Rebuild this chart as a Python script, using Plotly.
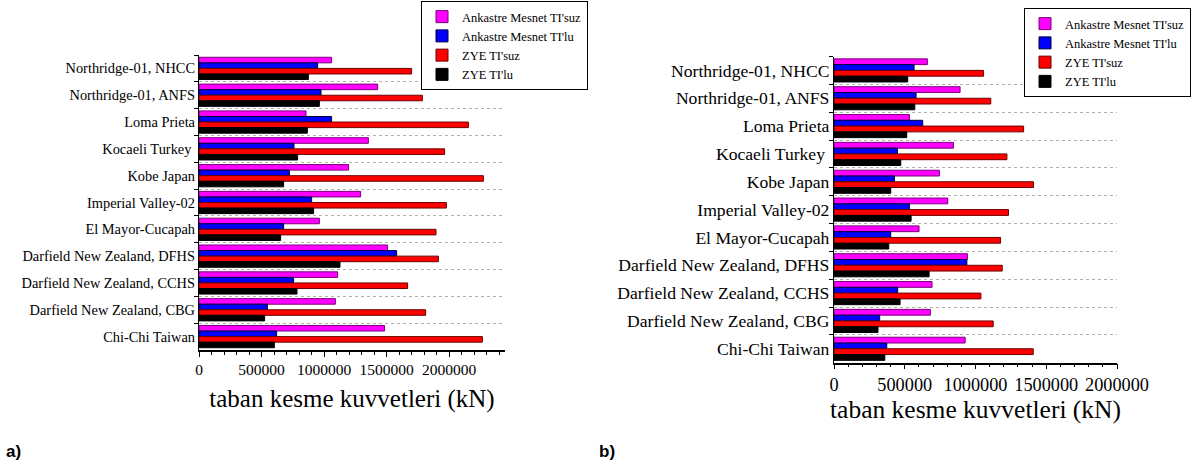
import plotly.graph_objects as go

categories = [
    "Northridge-01, NHCC",
    "Northridge-01, ANFS",
    "Loma Prieta",
    "Kocaeli Turkey\u00a0",
    "Kobe Japan",
    "Imperial Valley-02",
    "El Mayor-Cucapah",
    "Darfield New Zealand, DFHS",
    "Darfield New Zealand, CCHS",
    "Darfield New Zealand, CBG",
    "Chi-Chi Taiwan",
]

series_names = ["Ankastre Mesnet TI'suz", "Ankastre Mesnet TI'lu", "ZYE TI'suz", "ZYE TI'lu"]

# Panel a)
a_ankastre_suz = [1061000, 1429000, 856000, 1355000, 1197000, 1293000, 963000, 1509000, 1109000, 1091000, 1485000]
a_ankastre_lu = [949000, 976000, 1061000, 760000, 723000, 901000, 677000, 1581000, 757000, 547000, 621000]
a_zye_suz = [1701000, 1787000, 2155000, 1965000, 2275000, 1979000, 1896000, 1915000, 1669000, 1813000, 2267000]
a_zye_lu = [875000, 963000, 867000, 789000, 677000, 917000, 653000, 1128000, 784000, 525000, 603000]

# Panel b)
b_ankastre_suz = [660000, 891000, 533000, 844000, 745000, 804000, 601000, 943000, 693000, 681000, 927000]
b_ankastre_lu = [566000, 580000, 627000, 448000, 427000, 533000, 401000, 939000, 450000, 323000, 373000]
b_zye_suz = [1057000, 1108000, 1340000, 1222000, 1410000, 1233000, 1177000, 1189000, 1038000, 1125000, 1408000]
b_zye_lu = [521000, 571000, 514000, 472000, 401000, 545000, 387000, 672000, 467000, 311000, 359000]

fill_colors = ["#FF00FF", "#0000FF", "#FF0000", "#000000"]
line_colors = ["#7A007A", "#00003A", "#6A0000", "#000000"]

SERIF = "Liberation Serif, Times New Roman, serif"
W, H = 1199, 463

fig = go.Figure()

panels = [
    ("x", "y", "legend", [a_ankastre_suz, a_ankastre_lu, a_zye_suz, a_zye_lu]),
    ("x2", "y2", "legend2", [b_ankastre_suz, b_ankastre_lu, b_zye_suz, b_zye_lu]),
]
for xa, ya, lg, data in panels:
    for name, vals, fc, lc in zip(series_names, data, fill_colors, line_colors):
        fig.add_trace(go.Bar(
            x=vals, y=categories, orientation="h", name=name,
            marker=dict(color=fc, line=dict(color=lc, width=1)),
            xaxis=xa, yaxis=ya, legend=lg,
        ))


def px_dom(a, b, total):
    return [a / total, b / total]


def py_dom(top, bottom):
    return [(H - bottom) / H, (H - top) / H]


common_x = dict(
    showline=True, linecolor="black", linewidth=1.5, mirror=False,
    ticks="outside", ticklen=5, tickwidth=1, tickcolor="black",
    dtick=500000, tick0=0, tickformat="d", showgrid=False, zeroline=False,
    automargin=False,
    minor=dict(dtick=100000, ticks="outside", ticklen=3, tickcolor="black", showgrid=False),
)
common_y = dict(
    showline=True, linecolor="black", linewidth=1.2,
    ticks="outside", ticklen=4, tickcolor="black", tickson="boundaries",
    showgrid=True, gridcolor="#B0B0B0", griddash="dot", gridwidth=1,
    autorange="reversed", categoryorder="array", categoryarray=categories,
    automargin=False,
)

legend_common = dict(
    xanchor="right", yanchor="top",
    bordercolor="black", borderwidth=1, bgcolor="white",
    font=dict(size=12.5, family=SERIF, color="black"), traceorder="normal",
    tracegroupgap=0, itemwidth=30,
)

fig.update_layout(
    width=W, height=H,
    margin=dict(l=0, r=0, t=0, b=0, autoexpand=False),
    paper_bgcolor="white", plot_bgcolor="white",
    barmode="group", bargap=0.17, bargroupgap=0,
    font=dict(family=SERIF, color="black"),
    xaxis=dict(common_x, domain=px_dom(199, 505, W), range=[0, 2448000], anchor="y",
               tickfont=dict(size=15.5, family=SERIF),
               title=dict(text="taban kesme kuvvetleri (kN)", font=dict(size=25, family=SERIF), standoff=12)),
    yaxis=dict(common_y, domain=py_dom(55, 350), anchor="x",
               tickfont=dict(size=14.4, family=SERIF)),
    xaxis2=dict(common_x, domain=px_dom(834, 1117, W), range=[0, 2000000], anchor="y2",
                tickfont=dict(size=18.3, family=SERIF),
                title=dict(text="taban kesme kuvvetleri (kN)", font=dict(size=25.5, family=SERIF), standoff=4)),
    yaxis2=dict(common_y, domain=py_dom(56.5, 362.7), anchor="x2",
                tickfont=dict(size=17.6, family=SERIF)),
    legend=dict(legend_common, x=588 / W, y=1 - 1 / H),
    legend2=dict(legend_common, x=1191 / W, y=1 - 8 / H),
    annotations=[
        dict(text="<b>a)</b>", x=4 / W, y=1 - 451 / H, xref="paper", yref="paper",
             xanchor="left", yanchor="middle", showarrow=False,
             font=dict(family="Liberation Sans", size=17, color="black")),
        dict(text="<b>b)</b>", x=597 / W, y=1 - 451 / H, xref="paper", yref="paper",
             xanchor="left", yanchor="middle", showarrow=False,
             font=dict(family="Liberation Sans", size=17, color="black")),
    ],
)

fig.write_html("out.html")
